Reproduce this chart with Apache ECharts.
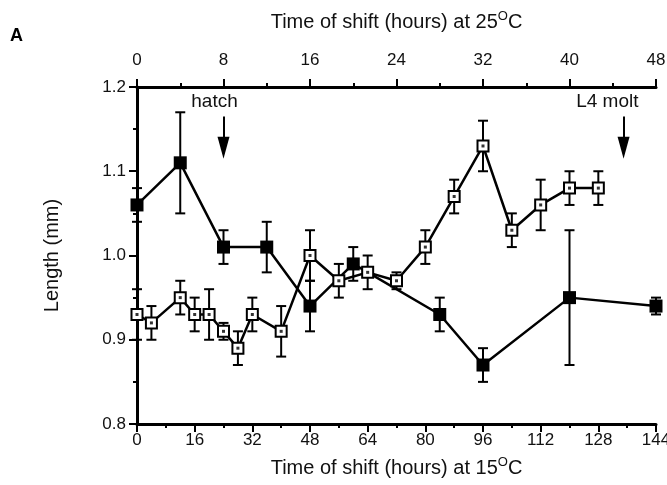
<!DOCTYPE html>
<html>
<head>
<meta charset="utf-8">
<script src="https://cdn.jsdelivr.net/npm/echarts@6/dist/echarts.min.js"></script>
<style>
  html, body { margin: 0; padding: 0; background: #fff; }
  #chart { width: 667px; height: 485px; }
</style>
</head>
<body>
<div id="chart"></div>
<script>
// filled squares
const filledX = [0, 12, 24, 36, 48, 60, 84, 96, 120, 144];
const filledY = [1.06, 1.11, 1.01, 1.01, 0.94, 0.99, 0.93, 0.87, 0.95, 0.94];
const filledErr = [0.02, 0.06, 0.02, 0.03, 0.03, 0.02, 0.02, 0.02, 0.08, 0.01];

// open squares
const openX = [0, 4, 12, 16, 20, 24, 28, 32, 40, 48, 56, 64, 72, 80, 88, 96, 104, 112, 120, 128];
const openY = [0.93, 0.92, 0.95, 0.93, 0.93, 0.91, 0.89, 0.93, 0.91, 1.00, 0.97, 0.98, 0.97, 1.01, 1.07, 1.13, 1.03, 1.06, 1.08, 1.08];
const openErr = [0.03, 0.02, 0.02, 0.02, 0.03, 0.01, 0.02, 0.02, 0.03, 0.03, 0.02, 0.02, 0.01, 0.02, 0.02, 0.03, 0.02, 0.03, 0.02, 0.02];

const FONT = 'Liberation Sans';

function pts(xs, ys) { return xs.map((x, i) => [x, ys[i]]); }
function errPts(xs, ys, es) { return xs.map((x, i) => [x, ys[i], es[i]]); }

function errorBars(params, api) {
  const x = api.value(0), y = api.value(1), e = api.value(2);
  const hi = api.coord([x, y + e]);
  const lo = api.coord([x, y - e]);
  const cap = 5;
  const st = { stroke: '#000', lineWidth: 2 };
  return {
    type: 'group',
    children: [
      { type: 'line', shape: { x1: hi[0], y1: hi[1], x2: lo[0], y2: lo[1] }, style: st },
      { type: 'line', shape: { x1: hi[0] - cap, y1: hi[1], x2: hi[0] + cap, y2: hi[1] }, style: st },
      { type: 'line', shape: { x1: lo[0] - cap, y1: lo[1], x2: lo[0] + cap, y2: lo[1] }, style: st }
    ]
  };
}

const axisLine = { show: true, lineStyle: { color: '#000', width: 3 } };
const tick = { show: true, inside: false, length: 8, lineStyle: { color: '#000', width: 2 } };
const minor = { show: true, splitNumber: 2, length: 4, lineStyle: { color: '#000', width: 2 } };
const nameStyle = {
  fontFamily: FONT, fontSize: 20, color: '#111',
  rich: { sup: { fontFamily: FONT, fontSize: 13, color: '#111', padding: [0, 0, 11, 0] } }
};

let option = {
  backgroundColor: '#fff',
  animation: false,
  grid: { left: 137, right: 11, top: 87, bottom: 61, outerBoundsMode: 'none', containLabel: false },
  graphic: [
    { type: 'text', left: 10, top: 27, style: { text: 'A', font: 'bold 18px ' + FONT, fill: '#000' } }
  ],
  xAxis: [
    {
      type: 'value', position: 'bottom', min: 0, max: 144, interval: 16,
      name: 'Time of shift (hours) at 15{sup|O}C',
      nameLocation: 'middle', nameGap: 32,
      nameTextStyle: nameStyle,
      axisLine: axisLine, axisTick: tick, minorTick: minor,
      splitLine: { show: false },
      axisLabel: { fontFamily: FONT, fontSize: 17, color: '#111', margin: 8 }
    },
    {
      type: 'value', position: 'top', min: 0, max: 48, interval: 8,
      name: 'Time of shift (hours) at 25{sup|O}C',
      nameLocation: 'middle', nameGap: 53,
      nameTextStyle: nameStyle,
      axisLine: axisLine, axisTick: tick, minorTick: minor,
      splitLine: { show: false },
      axisLabel: { fontFamily: FONT, fontSize: 17, color: '#111', margin: 18 }
    }
  ],
  yAxis: {
    type: 'value', min: 0.8, max: 1.2, interval: 0.1,
    name: 'Length (mm)', nameLocation: 'middle', nameGap: 75,
    nameTextStyle: { fontFamily: FONT, fontSize: 20, color: '#111' },
    axisLine: axisLine, axisTick: tick, minorTick: minor,
    splitLine: { show: false },
    axisLabel: { fontFamily: FONT, fontSize: 17, color: '#111', margin: 11, formatter: v => v.toFixed(1) }
  },
  series: [
    {
      type: 'custom', name: 'filledErr', renderItem: errorBars,
      data: errPts(filledX, filledY, filledErr), z: 2
    },
    {
      type: 'custom', name: 'openErr', renderItem: errorBars,
      data: errPts(openX, openY, openErr), z: 2
    },
    {
      type: 'line', name: 'filled', data: pts(filledX, filledY),
      symbol: 'rect', symbolSize: 13, showAllSymbol: true, clip: false,
      lineStyle: { color: '#000', width: 2.5 },
      itemStyle: { color: '#000' }, z: 3,
      markLine: {
        silent: true, symbol: ['none', 'triangle'], symbolSize: [12, 22],
        lineStyle: { color: '#000', width: 2, type: 'solid' },
        label: { show: false },
        data: [
          [{ coord: [24, 1.165] }, { coord: [24, 1.128] }],
          [{ coord: [135, 1.165] }, { coord: [135, 1.128] }]
        ]
      },
      markPoint: {
        silent: true, symbol: 'circle', symbolSize: 0,
        label: { show: true, position: 'inside', fontFamily: FONT, fontSize: 19, color: '#111' },
        data: [
          { coord: [21.5, 1.182], value: 'hatch', label: { formatter: 'hatch' } },
          { coord: [130.5, 1.182], value: 'L4 molt', label: { formatter: 'L4 molt' } }
        ]
      }
    },
    {
      type: 'line', name: 'open', data: pts(openX, openY),
      symbol: 'rect', symbolSize: 11, showAllSymbol: true, clip: false,
      lineStyle: { color: '#000', width: 2.5 },
      itemStyle: { color: '#fff', borderColor: '#000', borderWidth: 2 }, z: 4
    },
    {
      type: 'scatter', name: 'openDot', data: pts(openX, openY),
      symbol: 'rect', symbolSize: 3, itemStyle: { color: '#000' }, z: 5, silent: true
    }
  ]
};

let myChart = echarts.init(document.getElementById('chart'));
myChart.setOption(option);
</script>
</body>
</html>
